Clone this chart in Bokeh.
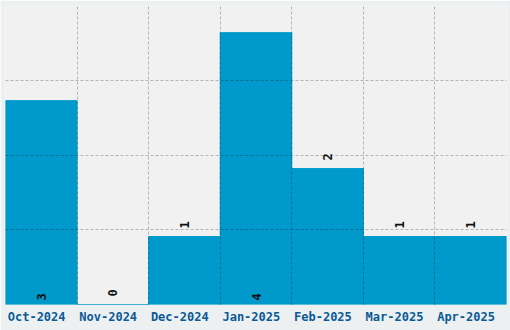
from bokeh.plotting import figure
from bokeh.models import ColumnDataSource, FixedTicker, Range1d
from bokeh.core.properties import value
from bokeh.embed import file_html
from bokeh.resources import INLINE

months = ["Oct-2024", "Nov-2024", "Dec-2024", "Jan-2025", "Feb-2025", "Mar-2025", "Apr-2025"]
counts = [3, 0, 1, 4, 2, 1, 1]

n = len(months)
ymax = 4.4

left = [i for i in range(n)]
right = [i + 1 for i in range(n)]
centers = [i + 0.5 for i in range(n)]
tick_pos = [c - 0.065 for c in centers]

src = ColumnDataSource(dict(left=left, right=right, top=counts, bottom=[0] * n))

p = figure(width=510, height=330, output_backend="svg", toolbar_location=None,
           x_range=Range1d(0, n), y_range=Range1d(0, ymax),
           min_border_left=5, min_border_right=4, min_border_top=5, min_border_bottom=26,
           background_fill_color="#f1f1f1", border_fill_color="#ecf0f1")
p.outline_line_color = None

p.quad(left="left", right="right", top="top", bottom="bottom", source=src,
       fill_color="#0099cc", line_color="#0099cc", line_width=1)

# labels: above bar for short bars, inside at base for tall bars
out_idx = [i for i, c in enumerate(counts) if c < 3]
in_idx = [i for i, c in enumerate(counts) if c >= 3]
out_src = ColumnDataSource(dict(x=[centers[i] for i in out_idx], y=[counts[i] for i in out_idx],
                                t=[str(counts[i]) for i in out_idx]))
in_src = ColumnDataSource(dict(x=[centers[i] for i in in_idx], y=[0 for i in in_idx],
                               t=[str(counts[i]) for i in in_idx]))
for s, off in ((out_src, 8), (in_src, 4)):
    p.text(x="x", y="y", text="t", source=s, angle=1.5708, text_align="left",
           text_baseline="middle", y_offset=-off, text_color="#111111",
           text_font=value("DejaVu Sans Mono"), text_font_style="bold", text_font_size="12px")

p.yaxis.visible = False
p.xaxis.ticker = FixedTicker(ticks=tick_pos)
p.xaxis.major_label_overrides = {t: m for t, m in zip(tick_pos, months)}
p.xaxis.axis_line_color = None
p.xaxis.major_tick_line_color = None
p.xaxis.minor_tick_line_color = None
p.xaxis.major_tick_out = 0
p.xaxis.major_tick_in = 0
p.xaxis.major_label_standoff = 5
p.xaxis.major_label_text_font = "DejaVu Sans Mono"
p.xaxis.major_label_text_font_style = "bold"
p.xaxis.major_label_text_font_size = "12px"
p.xaxis.major_label_text_color = "#0b5a94"

p.xgrid.ticker = FixedTicker(ticks=list(range(1, n)))
p.ygrid.ticker = FixedTicker(ticks=[1.1, 2.2, 3.3])
for g in (p.xgrid, p.ygrid):
    g.level = "overlay"
    g.grid_line_color = "black"
    g.grid_line_alpha = 0.25
    g.grid_line_dash = "3 2"
    g.grid_line_width = 1

open("out.html", "w").write(file_html(p, INLINE))
